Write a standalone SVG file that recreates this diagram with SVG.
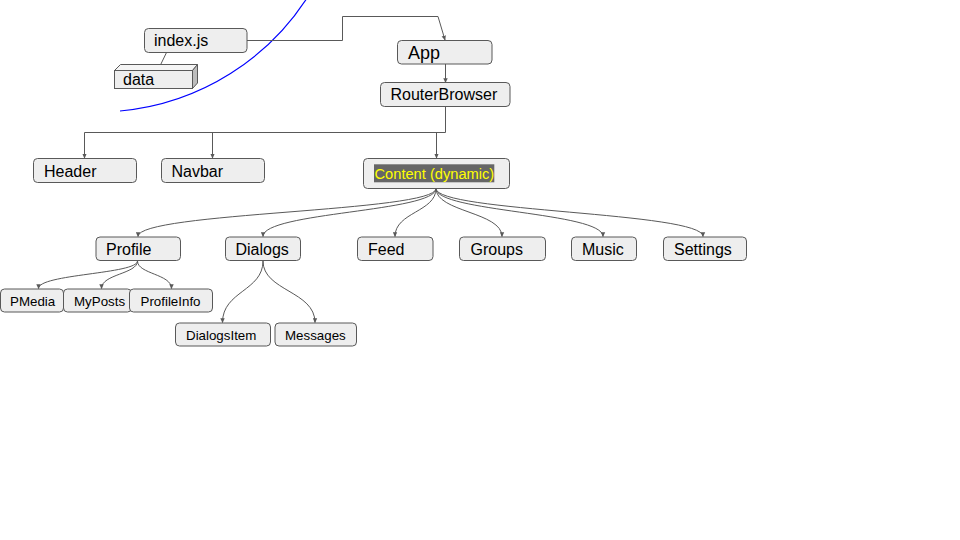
<svg xmlns="http://www.w3.org/2000/svg" width="960" height="540" viewBox="0 0 960 540">
<defs>
<marker id="ah" viewBox="0 0 8 8" refX="7" refY="4" markerWidth="5" markerHeight="5" orient="auto" markerUnits="userSpaceOnUse">
<path d="M0,0.5 L8,4 L0,7.5 Z" fill="#595959"/>
</marker>
<style>
.box{fill:#eeeeee;stroke:#595959;stroke-width:1}
.t{font-family:"Liberation Sans",Arial,sans-serif;fill:#000}
.c{fill:none;stroke:#595959;stroke-width:1}
.a{marker-end:url(#ah)}
</style>
</defs>
<rect width="960" height="540" fill="#ffffff"/>
<path d="M 312 -10 A 250 250 0 0 1 120 111" fill="none" stroke="#0000ff" stroke-width="1.2"/>
<g id="connectors">
<path class="c" d="M166.5 52.5 L160.7 64.5"/>
<path class="c a" d="M247 40.5 H342.5 V16.5 H438 L445 40"/>
<path class="c a" d="M445.5 64 V82.5"/>
<path class="c a" d="M445.5 107 V132.5 H84.5 V158"/>
<path class="c a" d="M212.5 132.5 V158"/>
<path class="c a" d="M436.5 132.5 V158"/>
<path class="c a" d="M436 188.5 C436 212 138 212 138 236.5"/>
<path class="c a" d="M436 188.5 C436 212 263 212 263 236.5"/>
<path class="c a" d="M436 188.5 C436 212 395 212 395 236.5"/>
<path class="c a" d="M436 188.5 C436 212 502 212 502 236.5"/>
<path class="c a" d="M436 188.5 C436 212 603 212 603 236.5"/>
<path class="c a" d="M436 188.5 C436 212 703 212 703 236.5"/>
<path class="c a" d="M137.5 261 C137.5 274 38.5 274 38.5 288.5"/>
<path class="c a" d="M137.5 261 C137.5 274 101.5 274 101.5 288.5"/>
<path class="c a" d="M137.5 261 C137.5 274 171.5 274 171.5 288.5"/>
<path class="c a" d="M263 261 C263 291 222.5 291 222.5 322.5"/>
<path class="c a" d="M263 261 C263 291 315 291 315 322.5"/>
</g>
<g id="index">
<rect class="box" x="144.5" y="28.5" width="102.5" height="24" rx="4"/>
<text class="t" x="154" y="46" font-size="16">index.js</text>
</g>
<g id="data">
<polygon points="114.5,70.5 120.5,64.5 197.5,64.5 192.5,70.5" fill="#f5f5f5" stroke="#595959" stroke-width="1"/>
<polygon points="192.5,70.5 197.5,64.5 197.5,83 192.5,88.5" fill="#bdbdbd" stroke="#595959" stroke-width="1"/>
<rect class="box" x="114.5" y="70.5" width="78" height="18" rx="0"/>
<text class="t" x="123" y="85" font-size="16">data</text>
</g>
<g id="app">
<rect class="box" x="397.5" y="40.5" width="94.5" height="23.5" rx="4"/>
<text class="t" x="408" y="59" font-size="18">App</text>
</g>
<g id="router">
<rect class="box" x="380.5" y="82.5" width="129.5" height="24" rx="4"/>
<text class="t" x="390.5" y="100" font-size="16">RouterBrowser</text>
</g>
<g id="header">
<rect class="box" x="33.5" y="158.5" width="103" height="24" rx="4"/>
<text class="t" x="44" y="176.5" font-size="16">Header</text>
</g>
<g id="navbar">
<rect class="box" x="161.5" y="158.5" width="103" height="24" rx="4"/>
<text class="t" x="171.5" y="176.5" font-size="16">Navbar</text>
</g>
<g id="content">
<rect class="box" x="363.5" y="158.5" width="146" height="30" rx="4"/>
<rect x="374" y="164.3" width="120.3" height="18" fill="#666666"/>
<text class="t" x="374.5" y="179" font-size="14.67" style="fill:#ffff00">Content (dynamic)</text>
</g>
<g id="profile">
<rect class="box" x="96" y="237" width="84.5" height="23.5" rx="4"/>
<text class="t" x="106" y="254.5" font-size="16">Profile</text>
</g>
<g id="dialogs">
<rect class="box" x="225.5" y="237" width="75" height="23.5" rx="4"/>
<text class="t" x="235.5" y="254.5" font-size="16">Dialogs</text>
</g>
<g id="feed">
<rect class="box" x="357.5" y="237" width="75.5" height="23.5" rx="4"/>
<text class="t" x="368" y="254.5" font-size="16">Feed</text>
</g>
<g id="groups">
<rect class="box" x="459.5" y="237" width="86" height="23.5" rx="4"/>
<text class="t" x="470.5" y="254.5" font-size="16">Groups</text>
</g>
<g id="music">
<rect class="box" x="571.5" y="237" width="65" height="23.5" rx="4"/>
<text class="t" x="582" y="254.5" font-size="16">Music</text>
</g>
<g id="settings">
<rect class="box" x="663.5" y="237" width="83" height="23.5" rx="4"/>
<text class="t" x="674" y="254.5" font-size="16">Settings</text>
</g>
<g id="pmedia">
<rect class="box" x="0.5" y="289" width="63" height="23" rx="4"/>
<text class="t" x="10" y="305.5" font-size="13.33">PMedia</text>
</g>
<g id="myposts">
<rect class="box" x="63.5" y="289" width="68" height="23" rx="4"/>
<text class="t" x="74" y="305.5" font-size="13.33">MyPosts</text>
</g>
<g id="profileinfo">
<rect class="box" x="129.5" y="289" width="83" height="23" rx="4"/>
<text class="t" x="140.5" y="305.5" font-size="13.33">ProfileInfo</text>
</g>
<g id="dialogsitem">
<rect class="box" x="175.5" y="323" width="95" height="23" rx="4"/>
<text class="t" x="186" y="339.5" font-size="13.33">DialogsItem</text>
</g>
<g id="messages">
<rect class="box" x="275" y="323" width="81.5" height="23" rx="4"/>
<text class="t" x="285" y="339.5" font-size="13.33">Messages</text>
</g>
</svg>
